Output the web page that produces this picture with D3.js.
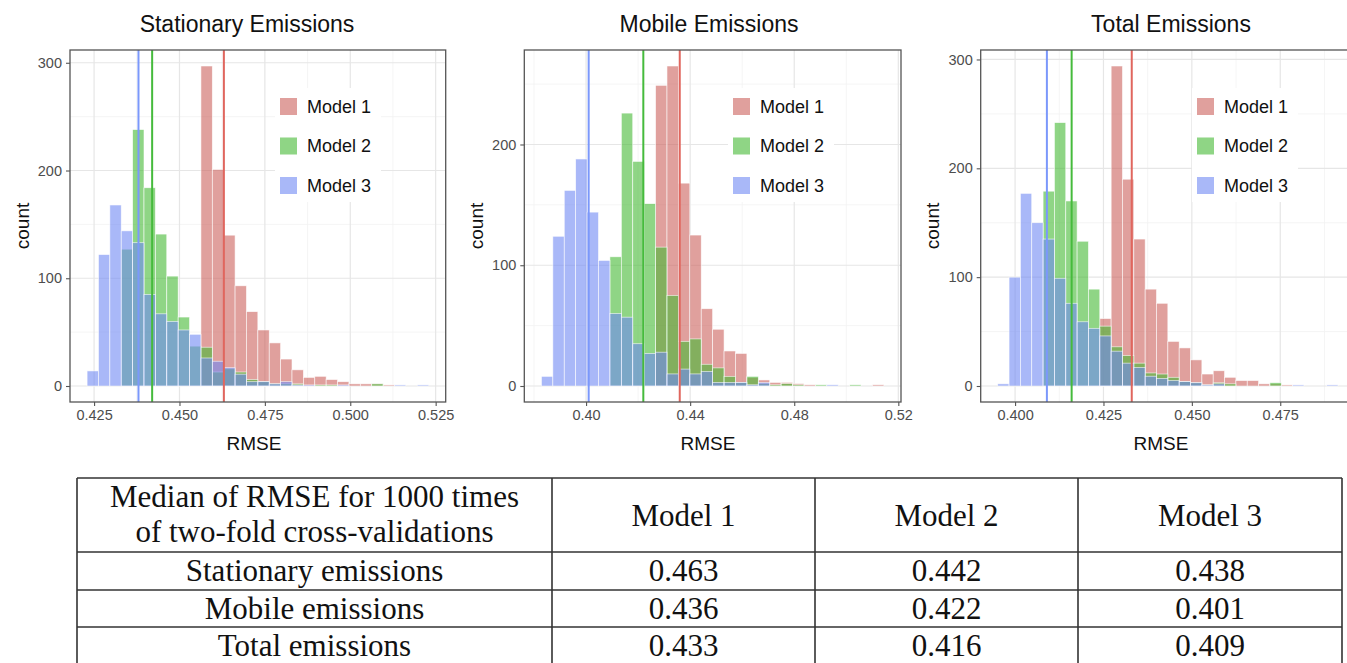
<!DOCTYPE html>
<meta charset="utf-8">
<script src="https://d3js.org/d3.v7.min.js"></script>
<style>
  body { margin: 0; background: #fff; }
  svg text { font-family: "Liberation Sans", Arial, sans-serif; }
  .tbl text { font-family: "Liberation Serif", "Times New Roman", serif; }
</style>
<div id="viz"></div>
<script>
// ---- data ----
const models = ["Model 1", "Model 2", "Model 3"];
const panelTitles = ["Stationary Emissions", "Mobile Emissions", "Total Emissions"];

// 30 shared bins per panel: first bin edge and bin width (RMSE)
const binStart = [0.42295, 0.38284, 0.39509];
const binWidth = [0.003333, 0.004387, 0.003208];

const stationaryM1 = [0,0,0,0,0,0,0,0,0,0, 297,201,140,93,69,52,40,25,15,8, 9,6,4,2,2,2,1,0,0,0];
const stationaryM2 = [0,0,0,127,238,184,141,102,64,37, 36,13,16,13,6,4,2,2,2,0, 1,1,0,0,0,2,0,0,0,0];
const stationaryM3 = [14,122,168,144,133,85,67,60,52,48, 26,23,17,11,4,4,2,4,1,1, 0,0,1,0,0,0,0,1,0,1];

const mobileM1 = [0,0,0,0,0,0,0,0,0,0, 249,265,168,125,64,47,29,27,7,5, 3,3,2,1,0,0,0,0,0,1];
const mobileM2 = [0,0,0,0,0,0,107,226,186,151, 115,75,37,39,18,15,8,3,8,2, 1,2,1,0,1,0,0,1,0,0];
const mobileM3 = [8,124,162,188,144,104,60,57,35,27, 28,10,14,10,12,3,3,3,1,3, 0,0,0,0,0,1,0,0,0,0];

const totalM1 = [0,0,0,0,0,0,0,0,0,62, 294,190,135,89,76,41,35,24,11,14, 8,5,5,2,2,1,0,0,0,0];
const totalM2 = [0,0,0,0,179,242,170,133,89,55, 36,28,21,12,11,8,4,3,1,3, 2,0,0,0,3,0,0,0,0,0];
const totalM3 = [2,100,177,150,135,99,76,59,53,46, 32,21,17,9,7,5,4,3,1,2, 0,0,0,0,0,0,1,0,0,1];

const counts = [
  [stationaryM1, stationaryM2, stationaryM3],
  [mobileM1, mobileM2, mobileM3],
  [totalM1, totalM2, totalM3]
];

const xTicks = [[0.425, 0.45, 0.475, 0.5, 0.525], [0.40, 0.44, 0.48, 0.52], [0.400, 0.425, 0.450, 0.475]];
const xFormats = [".3f", ".2f", ".3f"];
const yTicks = [[0, 100, 200, 300], [0, 100, 200], [0, 100, 200, 300]];

// table: median RMSE per model, rows = stationary / mobile / total
const tableHeader = ["Median of RMSE for 1000 times", "of two-fold cross-validations"];
const tableRows = ["Stationary emissions", "Mobile emissions", "Total emissions"];
const medianM1 = [0.463, 0.436, 0.433];
const medianM2 = [0.442, 0.422, 0.416];
const medianM3 = [0.438, 0.401, 0.409];
const medians = [medianM1, medianM2, medianM3];

// ---- styles / layout ----
const fillColors = ["#cb615c", "#44b934", "#7089f3"];
const lineColors = ["#e0665e", "#45bb3c", "#7b98fb"];

const svg = d3.select("#viz").append("svg")
  .attr("width", 1347).attr("height", 663);

const panels = [
  {left: 70, right: 445.7, legendX: 280, titleX: 247, labelX: 254},
  {left: 524.3, right: 901, legendX: 733, titleX: 709, labelX: 708},
  {left: 980.7, right: 1355, legendX: 1197, titleX: 1171, labelX: 1161}
];
const plotTop = 50, plotBottom = 402;

function minorTicks(ticks, domain) {
  const step = ticks[1] - ticks[0];
  const out = [];
  for (let v = ticks[0] - step / 2 - 3 * step; v <= domain[1]; v += step) {
    if (v >= domain[0]) out.push(v);
  }
  return out;
}

panels.forEach((p, i) => {
  const n = counts[i][0].length;
  const lo = binStart[i], hi = binStart[i] + n * binWidth[i];
  const pad = (hi - lo) * 0.05;
  const x = d3.scaleLinear().domain([lo - pad, hi + pad]).range([p.left, p.right]);
  const ymax = d3.max(counts[i].flat());
  const y = d3.scaleLinear().domain([-0.05 * ymax, 1.05 * ymax]).range([plotBottom, plotTop]);

  const g = svg.append("g");

  // grid
  const ymin = minorTicks(yTicks[i], y.domain());
  const xmin = minorTicks(xTicks[i], x.domain());
  g.selectAll(".gxm").data(xmin).join("line")
    .attr("x1", d => x(d)).attr("x2", d => x(d)).attr("y1", plotTop).attr("y2", plotBottom)
    .attr("stroke", "#f2f2f2").attr("stroke-width", 0.8);
  g.selectAll(".gym").data(ymin).join("line")
    .attr("y1", d => y(d)).attr("y2", d => y(d)).attr("x1", p.left).attr("x2", p.right)
    .attr("stroke", "#f2f2f2").attr("stroke-width", 0.8);
  g.selectAll(".gx").data(xTicks[i]).join("line")
    .attr("x1", d => x(d)).attr("x2", d => x(d)).attr("y1", plotTop).attr("y2", plotBottom)
    .attr("stroke", "#e6e6e6").attr("stroke-width", 1.2);
  g.selectAll(".gy").data(yTicks[i]).join("line")
    .attr("y1", d => y(d)).attr("y2", d => y(d)).attr("x1", p.left).attr("x2", p.right)
    .attr("stroke", "#e6e6e6").attr("stroke-width", 1.2);

  // bars, model 1 first so model 3 sits on top
  counts[i].forEach((series, m) => {
    const bins = series.map((c, k) => ({c, x0: lo + k * binWidth[i], x1: lo + (k + 1) * binWidth[i]}))
      .filter(d => d.c > 0);
    g.append("g").selectAll("rect").data(bins).join("rect")
      .attr("x", d => x(d.x0))
      .attr("width", d => x(d.x1) - x(d.x0))
      .attr("y", d => y(d.c))
      .attr("height", d => y(0) - y(d.c))
      .attr("fill", fillColors[m])
      .attr("fill-opacity", 0.6)
      .attr("stroke", "#fff")
      .attr("stroke-opacity", 0.8)
      .attr("stroke-width", 0.7);
  });

  // median lines
  models.forEach((mname, m) => {
    g.append("line")
      .attr("x1", x(medians[m][i])).attr("x2", x(medians[m][i]))
      .attr("y1", plotTop).attr("y2", plotBottom)
      .attr("stroke", lineColors[m]).attr("stroke-width", 2);
  });

  // legend
  const lg = g.append("g");
  lg.append("rect")
    .attr("x", p.legendX - 5).attr("y", 88)
    .attr("width", 106).attr("height", 114)
    .attr("fill", "#fff");
  models.forEach((mname, m) => {
    const ky = 98 + m * 39.5;
    lg.append("rect").attr("x", p.legendX).attr("y", ky).attr("width", 17).attr("height", 17)
      .attr("fill", fillColors[m]).attr("fill-opacity", 0.6);
    lg.append("text").attr("x", p.legendX + 27).attr("y", ky + 8.5).attr("dy", "0.36em")
      .attr("font-size", 18).attr("fill", "#111").text(mname);
  });

  // panel border
  g.append("rect").attr("x", p.left).attr("y", plotTop)
    .attr("width", p.right - p.left).attr("height", plotBottom - plotTop)
    .attr("fill", "none").attr("stroke", "#555").attr("stroke-width", 1.3);

  // axes
  const ax = g.append("g").attr("transform", `translate(0,${plotBottom})`)
    .call(d3.axisBottom(x).tickValues(xTicks[i]).tickFormat(d3.format(xFormats[i]))
      .tickSize(4).tickPadding(4));
  const ay = g.append("g").attr("transform", `translate(${p.left},0)`)
    .call(d3.axisLeft(y).tickValues(yTicks[i]).tickSize(4).tickPadding(4));
  [ax, ay].forEach(a => {
    a.select(".domain").remove();
    a.selectAll(".tick line").attr("stroke", "#555").attr("stroke-width", 1.1);
    a.selectAll(".tick text").attr("font-size", 14.5).attr("fill", "#4d4d4d")
      .attr("font-family", "Liberation Sans, Arial, sans-serif");
  });

  // axis titles
  g.append("text").attr("x", p.labelX).attr("y", 450).attr("text-anchor", "middle")
    .attr("font-size", 19).attr("fill", "#111").text("RMSE");
  g.append("text").attr("transform", `translate(${p.left - 48},${(plotTop + plotBottom) / 2}) rotate(-90)`)
    .attr("dy", "0.35em").attr("text-anchor", "middle")
    .attr("font-size", 19).attr("fill", "#111").text("count");

  // panel title
  svg.append("text").attr("x", p.titleX).attr("y", 32).attr("text-anchor", "middle")
    .attr("font-size", 23).attr("fill", "#111").text(panelTitles[i]);
});

// ---- table ----
const colX = [77, 552, 815, 1078, 1342];
const rowY = [478, 552, 590, 627, 664];
const tbl = svg.append("g").attr("class", "tbl");

tbl.selectAll(".hl").data(rowY).join("line")
  .attr("x1", colX[0]).attr("x2", colX[colX.length - 1])
  .attr("y1", d => d).attr("y2", d => d)
  .attr("stroke", "#333").attr("stroke-width", 1.6);
tbl.selectAll(".vl").data(colX).join("line")
  .attr("x1", d => d).attr("x2", d => d)
  .attr("y1", rowY[0]).attr("y2", rowY[rowY.length - 1])
  .attr("stroke", "#333").attr("stroke-width", 1.6);

const cx = d3.range(colX.length - 1).map(k => (colX[k] + colX[k + 1]) / 2);
const fs = 31;
tableHeader.forEach((t, k) => {
  tbl.append("text").attr("x", cx[0]).attr("y", 507 + k * 35)
    .attr("text-anchor", "middle").attr("font-size", fs).attr("fill", "#111").text(t);
});
models.forEach((mname, m) => {
  tbl.append("text").attr("x", cx[m + 1]).attr("y", 526)
    .attr("text-anchor", "middle").attr("font-size", fs).attr("fill", "#111").text(mname);
});
tableRows.forEach((r, j) => {
  const by = (rowY[j + 1] + rowY[j + 2]) / 2 + 10;
  tbl.append("text").attr("x", cx[0]).attr("y", by)
    .attr("text-anchor", "middle").attr("font-size", fs).attr("fill", "#111").text(r);
  models.forEach((mname, m) => {
    tbl.append("text").attr("x", cx[m + 1]).attr("y", by)
      .attr("text-anchor", "middle").attr("font-size", fs).attr("fill", "#111")
      .text(d3.format(".3f")(medians[m][j]));
  });
});
</script>
